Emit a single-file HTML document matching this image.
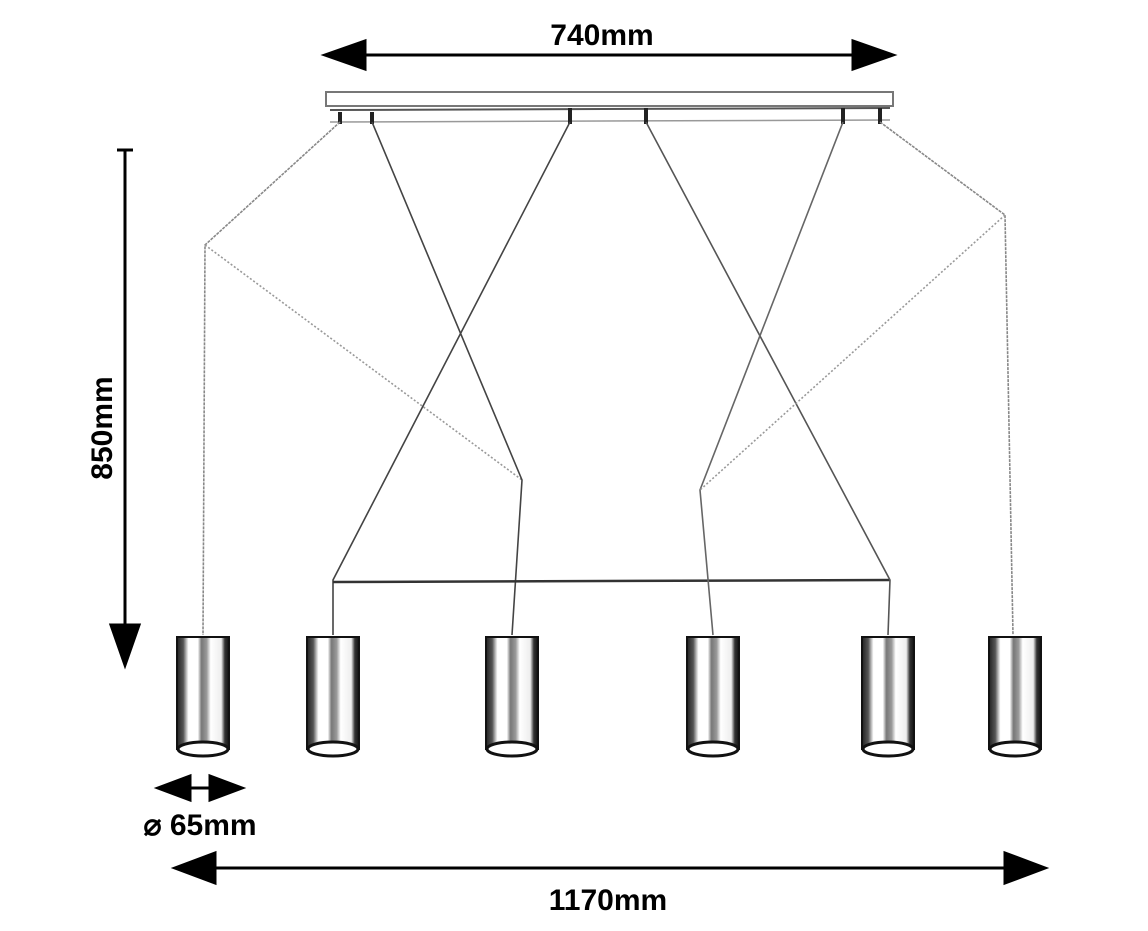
<!DOCTYPE html>
<html><head><style>body{margin:0;background:#fff}svg{display:block}</style></head><body>
<svg width="1148" height="931" viewBox="0 0 1148 931" xmlns="http://www.w3.org/2000/svg">
<defs>
<linearGradient id="cyl" x1="0" x2="1">
<stop offset="0" stop-color="#222"/><stop offset="0.12" stop-color="#555"/><stop offset="0.22" stop-color="#fff"/><stop offset="0.4" stop-color="#fff"/><stop offset="0.47" stop-color="#777"/><stop offset="0.57" stop-color="#999"/><stop offset="0.65" stop-color="#fff"/><stop offset="0.85" stop-color="#eee"/><stop offset="0.92" stop-color="#333"/><stop offset="1" stop-color="#111"/>
</linearGradient>
<g id="lamp">
<rect x="-26" y="0" width="52" height="112" fill="url(#cyl)" stroke="#111" stroke-width="2"/>
<ellipse cx="0" cy="112" rx="25" ry="7" fill="#fff" stroke="#111" stroke-width="3"/>
</g>
</defs>
<!-- canopy -->
<rect x="326" y="92" width="567" height="14" fill="#fff" stroke="#777" stroke-width="2"/>
<line x1="330" y1="110" x2="890" y2="108" stroke="#555" stroke-width="2"/>
<line x1="330" y1="122" x2="890" y2="120" stroke="#999" stroke-width="1.5"/>
<g stroke="#222" stroke-width="4"><line x1="340" y1="112" x2="340" y2="124"/><line x1="372" y1="112" x2="372" y2="124"/><line x1="570" y1="108" x2="570" y2="124"/><line x1="646" y1="108" x2="646" y2="124"/><line x1="843" y1="108" x2="843" y2="124"/><line x1="880" y1="108" x2="880" y2="124"/></g>
<!-- wires -->
<g fill="none" stroke="#444" stroke-width="1.6">
<polyline points="340,122 205,245 203,635" stroke="#888" stroke-dasharray="3,1"/>
<line x1="205" y1="245" x2="522" y2="480" stroke="#999" stroke-dasharray="2,2"/>
<polyline points="372,122 522,480 512,635"/>
<polyline points="570,122 333,580 333,635"/>
<line x1="333" y1="582" x2="890" y2="580" stroke="#333" stroke-width="2.5"/>
<polyline points="646,122 890,580 888,635" stroke="#555"/>
<polyline points="843,122 700,490 713,635" stroke="#666"/>
<polyline points="880,122 1005,215 1013,635" stroke="#888" stroke-dasharray="3,1"/>
<line x1="1005" y1="215" x2="700" y2="490" stroke="#999" stroke-dasharray="2,2"/>
</g>
<use href="#lamp" x="203" y="637"/>
<use href="#lamp" x="333" y="637"/>
<use href="#lamp" x="512" y="637"/>
<use href="#lamp" x="713" y="637"/>
<use href="#lamp" x="888" y="637"/>
<use href="#lamp" x="1015" y="637"/>
<!-- dims -->
<g stroke="#000" stroke-width="3" fill="#000">
<line x1="350" y1="55" x2="870" y2="55"/>
<polygon points="325,55 365,41 365,69"/><polygon points="893,55 853,41 853,69"/>
<line x1="125" y1="150" x2="125" y2="640"/><line x1="117" y1="150" x2="133" y2="150"/>
<polygon points="125,665 111,625 139,625"/>
<line x1="180" y1="788" x2="220" y2="788"/>
<polygon points="158,788 190,776 190,800"/><polygon points="242,788 210,776 210,800"/>
<line x1="200" y1="868" x2="1020" y2="868"/>
<polygon points="175,868 215,853 215,883"/><polygon points="1045,868 1005,853 1005,883"/>
</g>
<g font-family="Liberation Sans, sans-serif" font-weight="bold" font-size="30" fill="#000">
<text x="602" y="45" text-anchor="middle">740mm</text>
<text x="608" y="910" text-anchor="middle">1170mm</text>
<text x="200" y="835" text-anchor="middle">⌀ 65mm</text>
<text transform="translate(112,428) rotate(-90)" text-anchor="middle">850mm</text>
</g>
</svg>
</body></html>
